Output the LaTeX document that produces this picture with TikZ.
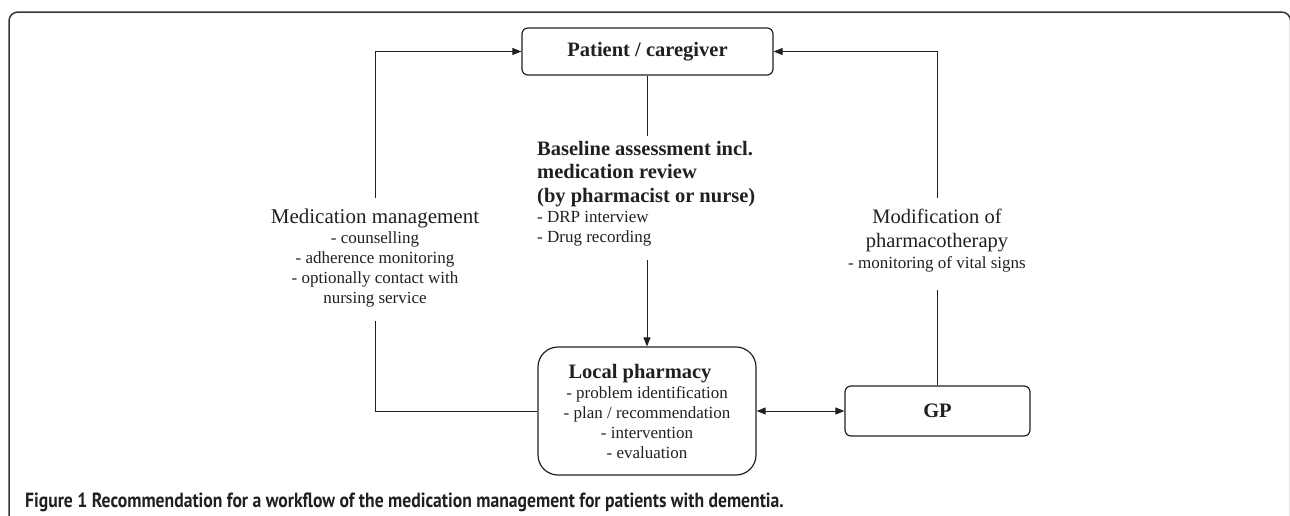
\documentclass[tikz,border=0pt]{standalone}
\usepackage{fontspec}
\setmainfont{Liberation Serif}
\newfontfamily\capfont{PT Sans}
\usetikzlibrary{arrows.meta}
\definecolor{ink}{HTML}{231F20}
\tikzset{
  box/.style={draw=ink, line width=1.2pt, text=ink, inner sep=0pt, align=center},
  conn/.style={draw=ink, line width=0.9pt},
  arr/.style={conn, -{Triangle[length=9pt,width=7pt]}},
  darr/.style={conn, {Triangle[length=9pt,width=7pt]}-{Triangle[length=9pt,width=7pt]}},
  ttl/.style={text=ink, inner sep=0pt, font=\bfseries\fontsize{20.5}{23.5}\selectfont},
  reg/.style={text=ink, inner sep=0pt, font=\fontsize{17}{20}\selectfont},
  big/.style={text=ink, inner sep=0pt, font=\fontsize{21}{24}\selectfont},
}
\begin{document}
\begin{tikzpicture}[x=1pt,y=-1pt]
\useasboundingbox (0,0) rectangle (1290,515);
\begin{scope}
\clip (0,0) rectangle (1290,515);
\draw[draw=ink!90, line width=1.5pt, rounded corners=9pt] (9,530) -- (9,12) -- (1290.6,12) -- (1290.6,530);
\end{scope}

% nodes
\node[box, rounded corners=6pt, minimum width=251pt, minimum height=47pt, font=\bfseries\fontsize{20.5}{23.5}\selectfont] (patient) at (647.5,51.5) {Patient / caregiver};
\node[box, rounded corners=20pt, minimum width=218pt, minimum height=128pt, font=\fontsize{17}{20}\selectfont] (local) at (647,411)
  {{\bfseries\fontsize{20.5}{20}\selectfont\hspace*{-14pt}Local pharmacy}\\
   - problem identification\\
   - plan / recommendation\\
   - intervention\\
   - evaluation};
\node[box, rounded corners=6pt, minimum width=185pt, minimum height=50pt, font=\bfseries\fontsize{20.5}{23.5}\selectfont] (gp) at (937.5,411) {GP};

% labels
\node[ttl, align=left, anchor=west] (basettl) at (537,174) {Baseline assessment incl.\\ medication review\\ (by pharmacist or nurse)};
\node[reg, align=left, anchor=west] (baselist) at (537,229) {- DRP interview\\ - Drug recording};

\node[big] (medttl) at (375,218) {Medication management};
\node[reg, align=center] (medlist) at (375,269) {- counselling\\ - adherence monitoring\\ - optionally contact with\\ nursing service};

\node[ttl, font=\fontsize{20.5}{24}\selectfont, align=center] (modttl) at (937,230) {Modification of\\ pharmacotherapy};
\node[reg] (modlist) at (937,264) {- monitoring of vital signs};

\node[anchor=west, inner sep=0pt, text=ink, xscale=0.86, font=\capfont\bfseries\fontsize{20.5}{24}\selectfont] (caption) at (25,502)
  {Figure 1 Recommendation for a workflow of the medication management for patients with dementia.};

% free ends
\coordinate (c1) at (647.5,136);
\coordinate (c2) at (647,260);
\coordinate (l1) at (375,198);
\coordinate (l2) at (375,321);
\coordinate (r1) at (937.5,198);
\coordinate (r2) at (937.5,290);

% connectors
\draw[conn] (patient.south) -- (c1);
\draw[arr] (c2) -- (local.north);
\draw[arr] (l1) |- (patient.west);
\draw[conn] (l2) |- (local.west);
\draw[arr] (r1) |- (patient.east);
\draw[conn] (r2) -- (gp.north);
\draw[darr] (local.east) -- (gp.west);
\end{tikzpicture}
\end{document}
